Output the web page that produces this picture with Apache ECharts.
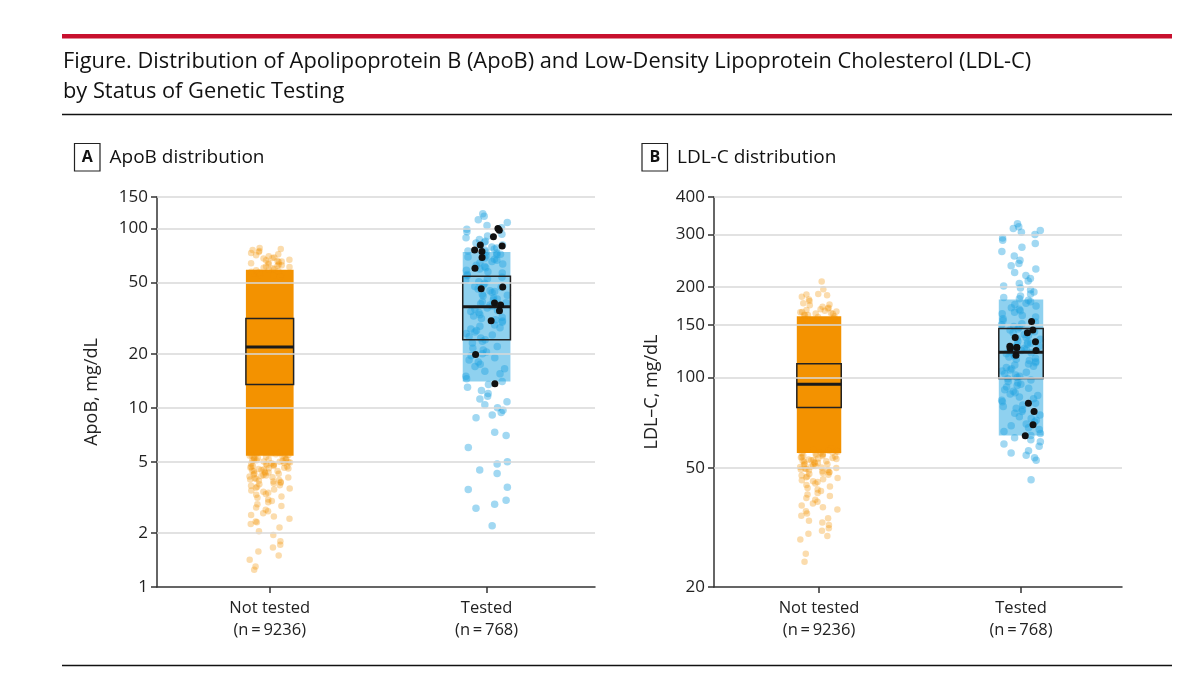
<!doctype html>
<html lang="en">
<head>
<meta charset="UTF-8">
<title>ApoB and LDL-C distribution</title>
<style>html,body{margin:0;padding:0;background:#fff}</style>
</head>
<body>
<div id="chart" style="width:1200px;height:697px"></div>
<script src="https://cdn.jsdelivr.net/npm/echarts@6/dist/echarts.min.js"></script>
<script>
var groups = ['Not tested', 'Tested'];
var groupN = [9236, 768];

// ApoB panel (mg/dL)
var apobTicks = [1, 2, 5, 10, 20, 50, 100, 150];
var apobBox = [[13.5, 21.8, 31.5], [24.0, 36.6, 54.2]]; // q1, median, q3
var apobCore = [[5.4, 59], [14, 74]]; // range where the cloud is dense
var apobNotTested = [1.25, 1.3, 1.42, 1.5, 1.58, 1.66, 1.72, 1.8, 1.95, 2.05, 2.15, 2.25, 2.3, 2.32, 2.4,
  2.47, 2.52, 2.58, 2.65, 2.7, 2.78, 2.83, 2.9, 2.97, 3.02, 3.08, 3.15, 3.2, 3.27, 3.3, 3.36, 3.4, 3.45,
  3.5, 3.55, 3.58, 3.63, 3.67, 3.7, 3.74, 3.78, 3.82, 3.85, 3.88, 3.92, 3.95, 3.98, 4.02, 4.05, 4.08,
  4.1, 4.13, 4.16, 4.19, 4.22, 4.25, 4.28, 4.3, 4.33, 4.36, 4.39, 4.42, 4.44, 4.47, 4.5, 4.52, 4.55,
  4.58, 4.6, 4.63, 4.65, 4.68, 4.7, 4.73, 4.75, 4.78, 4.8, 4.83, 4.85, 4.87, 4.9, 4.92, 4.95, 4.97, 5.0,
  5.02, 5.05, 5.07, 5.1, 5.12, 5.15, 5.17, 5.2, 5.22, 5.25, 5.28, 5.3, 5.33, 5.36, 5.4, 5.43, 5.46, 5.5,
  5.53, 5.56, 5.6,
  54, 54.5, 55, 55.5, 56, 56.5, 57, 57.5, 58, 58.5, 59, 59.5, 60, 60.5, 61, 61.5, 62, 62.5, 63, 63.5, 64,
  64.5, 65, 65.5, 66, 66.5, 67, 68, 68.5, 69, 70, 71, 72, 73, 74, 75, 76, 77, 78];
var apobTested = [121, 117, 112, 108, 104, 101, 99, 96, 93, 91, 89, 87, 85, 84, 83, 81, 80, 79, 78, 77,
  76, 75, 74, 73, 72, 71.5, 70.5, 69.5, 68.5, 67.5, 66.5, 65.5, 64.5, 63.5, 62.5, 61.5, 60.5, 59.5, 58.5,
  57.5, 56.5, 55.5, 54.5, 53.5, 52.5, 51.5, 50.5, 49.5, 48.5, 47.5, 47, 46, 45, 44.5, 44, 43, 42.5, 42,
  41, 40.5, 40, 39, 38.5, 38, 37.5, 37, 36, 35.5, 35, 34.5, 34, 33, 32.5, 32, 31.5, 31, 30.5, 30, 29,
  28.5, 28, 27.5, 27, 26.5, 26, 25.5, 25, 24.5, 24, 23.5, 23, 22, 21.5, 21, 20.5, 20, 19.5, 19, 18.5, 18,
  17.5, 17, 16.5, 16, 15.5, 15, 14.5, 14, 13.5, 13, 12.5, 12, 11.6, 11.2, 10.8, 10.4, 10, 9.7, 9.4, 9.1,
  8.8, 7.3, 7.0, 6.0, 5.0, 4.85, 4.5, 4.3, 3.6, 3.5, 3.05, 2.9, 2.75, 2.2];
var apobMarked = [100, 98, 90, 81, 80, 76, 74.5, 69, 60, 47.2, 46.2, 38.4, 37.5, 34.8, 30.6, 19.8, 13.6];

// LDL-C panel (mg/dL)
var ldlTicks = [20, 50, 100, 150, 200, 300, 400];
var ldlBox = [[79.4, 95, 111.2], [99.2, 121.4, 145.6]];
var ldlCore = [[56, 160], [64, 182]];
var ldlNotTested = [24.3, 25.8, 28.8, 29.6, 30.1, 30.8, 31.4, 32.2, 32.8, 33.3, 33.9, 34.6, 35.2, 35.8,
  36.3, 36.9, 37.4, 38, 38.5, 39.1, 39.6, 40.2, 40.7, 41.2, 41.8, 42.3, 42.8, 43.3, 43.8, 44.3, 44.8,
  45.1, 45.4, 45.8, 46.2, 46.5, 46.7, 47.1, 47.4, 47.6, 48, 48.2, 48.4, 48.7, 48.9, 49.1, 49.3, 49.5,
  49.7, 49.9, 50.1, 50.3, 50.5, 50.7, 50.9, 51.1, 51.3, 51.5, 51.7, 51.9, 52.1, 52.3, 52.5, 52.7, 52.9,
  53.1, 53.3, 53.5, 53.7, 53.9, 54.1, 54.3, 54.5, 54.7, 54.9, 55.1, 55.3, 55.5, 55.7, 55.9, 56.1, 56.3,
  56.5, 56.8, 57, 57.5, 58,
  155, 156, 157, 158, 159, 160, 161, 161.5, 162, 163, 163.5, 164, 165, 165.5, 166, 167, 168, 169, 170,
  171, 172, 174, 175, 177, 180, 182, 186, 188, 189, 190, 197, 209];
var ldlTested = [326, 318, 314, 309, 305, 300, 292, 287, 280, 272, 263, 254, 246, 240, 236, 230, 224,
  219, 214, 210, 206, 202, 199, 196, 193, 190, 187, 185, 183, 181, 179, 177, 175, 173, 171, 169, 167,
  165, 163, 161, 159, 157, 155, 153, 151, 150, 148, 147, 145, 144, 142, 141, 139, 138, 136, 135, 134,
  132, 131, 130, 129, 128, 127, 126, 125, 124, 123, 122, 121, 120, 119, 118, 117, 116, 115, 114, 113,
  112, 111, 110, 109, 108, 107, 106, 105, 104, 103, 102, 101, 100, 99, 98, 97, 96, 95, 94, 93, 92, 91,
  90, 89, 88, 87, 86, 85, 84, 83, 82, 81, 80, 79, 78, 77, 76, 75, 74, 73, 72, 71, 70, 69, 68, 67, 66,
  65, 64, 63, 62, 61, 60, 59, 57, 56, 55, 54, 53, 45.6];
var ldlMarked = [153.6, 144, 141, 136, 131.7, 127, 126, 126, 125, 123, 118.6, 82, 77, 69.5, 63.9];

var FONT = '"Open Sans", "Noto Sans", sans-serif';
var ORANGE = '#F39200';
var BLUE = '#1FA3DF';
var HALF = 0.11;

var chart = echarts.init(document.getElementById('chart'));

// spread points sideways inside the column (quadratic Weyl sequence, no randomness)
function jitter(values, g, phase) {
    return values.map(function (v, i) {
        var f = (i * 0.6180339887 + i * i * 0.4142135624 + phase) % 1;
        return [g + (f - 0.5) * 2 * 0.097, v];
    });
}

function coreItem(params, api) {
    var x = api.value(0);
    var p1 = api.coord([x - HALF, api.value(2)]);
    var p2 = api.coord([x + HALF, api.value(1)]);
    return {
        type: 'rect',
        shape: {x: p1[0], y: p1[1], width: p2[0] - p1[0], height: p2[1] - p1[1]},
        style: {fill: x === 0 ? ORANGE : 'rgba(31,163,223,0.5)'}
    };
}

function boxItem(params, api) {
    var x = api.value(0);
    var a = api.coord([x - HALF, api.value(3)]);
    var b = api.coord([x + HALF, api.value(1)]);
    var m = api.coord([x, api.value(2)]);
    return {
        type: 'group',
        children: [
            {type: 'rect', shape: {x: a[0], y: a[1], width: b[0] - a[0], height: b[1] - a[1]},
                style: {fill: 'none', stroke: '#222', lineWidth: 1.5}},
            {type: 'line', shape: {x1: a[0], y1: m[1], x2: b[0], y2: m[1]},
                style: {stroke: '#1a1a1a', lineWidth: 3}}
        ]
    };
}

function panelSeries(idx, ticks, box, core, notTested, tested, marked) {
    return [
        {
            type: 'scatter', xAxisIndex: idx, yAxisIndex: idx, data: [], z: 1, silent: true,
            markLine: {
                silent: true, symbol: ['none', 'none'], label: {show: false}, animation: false,
                lineStyle: {color: '#d9d9d9', width: 1.5, type: 'solid'},
                data: ticks.slice(1).map(function (v) { return {yAxis: v}; })
            }
        },
        {
            type: 'custom', xAxisIndex: idx, yAxisIndex: idx, z: 2, silent: true,
            renderItem: coreItem, encode: {x: 0, y: [1, 2]},
            data: core.map(function (c, g) { return [g, c[0], c[1]]; })
        },
        {
            type: 'scatter', xAxisIndex: idx, yAxisIndex: idx, z: 3, silent: true,
            symbolSize: 6.5, itemStyle: {color: ORANGE, opacity: 0.32},
            data: jitter(notTested, 0, 0.13)
        },
        {
            type: 'scatter', xAxisIndex: idx, yAxisIndex: idx, z: 3, silent: true,
            symbolSize: 7.5, itemStyle: {color: BLUE, opacity: 0.42},
            data: jitter(tested, 1, 0.41)
        },
        {
            type: 'custom', xAxisIndex: idx, yAxisIndex: idx, z: 4, silent: true,
            renderItem: boxItem, encode: {x: 0, y: [1, 2, 3]},
            data: box.map(function (b, g) { return [g, b[0], b[1], b[2]]; })
        },
        {
            type: 'scatter', xAxisIndex: idx, yAxisIndex: idx, z: 5, silent: true,
            symbolSize: 7, itemStyle: {color: '#111', opacity: 1},
            data: jitter(marked, 1, 0.77)
        }
    ];
}

function xAxisOf(idx) {
    return {
        type: 'value', gridIndex: idx, min: -0.52, max: 1.5,
        axisLine: {onZero: false, lineStyle: {color: '#333', width: 1.5}},
        axisTick: {customValues: [0, 1], length: 6, lineStyle: {color: '#333', width: 1.5}},
        axisLabel: {
            customValues: [0, 1], margin: 10, fontSize: 16.5, lineHeight: 22, color: '#222', fontFamily: FONT,
            formatter: function (v) { return groups[v] + '\n(n\u2009=\u2009' + groupN[v] + ')'; }
        },
        splitLine: {show: false}
    };
}

function yAxisOf(idx, name, min, max, ticks, gap) {
    return {
        type: 'log', logBase: 10, gridIndex: idx, min: min, max: max,
        name: name, nameLocation: 'middle', nameGap: gap,
        nameTextStyle: {fontSize: 18, color: '#222', fontFamily: FONT},
        axisLine: {show: true, onZero: false, lineStyle: {color: '#333', width: 1.5}},
        axisTick: {show: true, customValues: ticks, length: 6, lineStyle: {color: '#333', width: 1.5}},
        axisLabel: {customValues: ticks, margin: 9, fontSize: 17, color: '#222', fontFamily: FONT},
        splitLine: {show: false}
    };
}

function panelLabel(letter, text, x) {
    return [
        {type: 'rect', shape: {x: x, y: 143.5, width: 25.5, height: 27.5},
            style: {fill: 'none', stroke: '#222', lineWidth: 1.2}},
        {type: 'text', x: x + 12.75, y: 157.5,
            style: {text: letter, fill: '#111', font: 'bold 16px ' + FONT, align: 'center', verticalAlign: 'middle'}},
        {type: 'text', x: x + 35, y: 157.5,
            style: {text: text, fill: '#111', font: '19px ' + FONT, verticalAlign: 'middle'}}
    ];
}

var option = {
    backgroundColor: '#fff',
    animation: false,
    grid: [
        {left: 157, right: 605, top: 197, bottom: 110},
        {left: 714, right: 78, top: 197, bottom: 110}
    ],
    xAxis: [xAxisOf(0), xAxisOf(1)],
    yAxis: [
        yAxisOf(0, 'ApoB, mg/dL', 1, 150, apobTicks, 56),
        yAxisOf(1, 'LDL\u2013C, mg/dL', 20, 400, ldlTicks, 53)
    ],
    series: panelSeries(0, apobTicks, apobBox, apobCore, apobNotTested, apobTested, apobMarked)
        .concat(panelSeries(1, ldlTicks, ldlBox, ldlCore, ldlNotTested, ldlTested, ldlMarked)),
    graphic: [
        {type: 'rect', shape: {x: 62, y: 34, width: 1110, height: 4.5}, style: {fill: '#C8102E'}},
        {type: 'text', x: 63, y: 62, style: {text: 'Figure. Distribution of Apolipoprotein B (ApoB) and Low-Density Lipoprotein Cholesterol (LDL-C)',
            fill: '#111', font: '21.8px ' + FONT, verticalAlign: 'middle'}},
        {type: 'text', x: 63, y: 92, style: {text: 'by Status of Genetic Testing',
            fill: '#111', font: '21.8px ' + FONT, verticalAlign: 'middle'}},
        {type: 'line', shape: {x1: 62, y1: 114.5, x2: 1172, y2: 114.5}, style: {stroke: '#111', lineWidth: 1.5}},
        {type: 'line', shape: {x1: 62, y1: 665.5, x2: 1172, y2: 665.5}, style: {stroke: '#111', lineWidth: 1.5}}
    ].concat(panelLabel('A', 'ApoB distribution', 74.5), panelLabel('B', 'LDL-C distribution', 642))
};

chart.setOption(option);
</script>
</body>
</html>
